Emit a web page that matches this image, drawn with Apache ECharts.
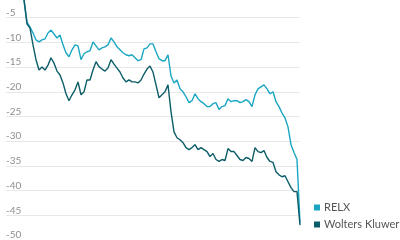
<!DOCTYPE html>
<html>
<head>
<meta charset="utf-8">
<script src="https://cdn.jsdelivr.net/npm/echarts@6/dist/echarts.min.js"></script>
<style>
html,body{margin:0;padding:0;background:#fff;overflow:hidden;width:400px;height:240px;}
#c{width:400px;height:247px;margin-top:-7px;}
</style>
</head>
<body>
<div id="c"></div>
<script>
// Data (percent change)
const seriesNames = ['RELX', 'Wolters Kluwer'];
const leadingGap = [null, null, null, null, null];
const relx = [0, -1.4, -5.9, -6.9, -8.1, -9.5, -9.9, -9.5, -9.3, -8.1,
  -7.5, -8.3, -9.1, -8.5, -10.5, -12.1, -12.9, -11.5, -10.5, -10.7,
  -13.5, -12.3, -11.9, -11.7, -9.9, -10.7, -11.5, -11.1, -10.9, -10.5,
  -9.1, -9.9, -10.9, -11.5, -12.1, -12.5, -12.7, -12.5, -13.1, -13.7,
  -13.5, -11.3, -11.1, -10.3, -10.3, -11.9, -13.3, -13.7, -13.7, -12.5,
  -16.8, -18.2, -17.6, -19.4, -20.0, -21.0, -22.2, -21.8, -20.4, -21.4,
  -22.0, -22.4, -23.0, -23.0, -22.4, -22.2, -23.6, -23.0, -22.8, -21.4,
  -22.0, -21.8, -21.8, -22.2, -22.0, -21.6, -22.0, -23.0, -20.6, -19.4,
  -19.0, -18.6, -19.4, -20.4, -20.0, -22.0, -23.0, -24.3, -25.3, -27.1,
  -30.7, -32.3, -33.7, -46.5];
const woltersKluwer = [0, -1.4, -6.3, -7.1, -10.5, -13.5, -15.6, -15.0, -15.6, -14.6,
  -13.1, -14.2, -15.8, -16.6, -18.2, -20.4, -21.8, -20.6, -19.6, -18.0,
  -20.6, -20.0, -17.6, -17.6, -15.6, -13.9, -14.9, -15.4, -15.8, -15.2,
  -13.5, -14.4, -15.2, -16.0, -17.2, -18.0, -17.6, -18.0, -18.0, -18.2,
  -17.6, -16.4, -15.4, -14.8, -16.0, -18.6, -21.2, -20.6, -20.0, -18.6,
  -24.0, -28.1, -29.3, -29.7, -30.3, -31.3, -31.7, -31.3, -30.7, -31.7,
  -31.3, -31.7, -32.1, -33.1, -32.5, -33.7, -34.1, -33.7, -33.9, -31.5,
  -32.1, -32.1, -32.9, -33.7, -33.9, -33.3, -33.5, -34.1, -31.3, -32.1,
  -32.3, -31.9, -33.3, -34.1, -34.3, -36.2, -36.8, -37.2, -37.0, -38.2,
  -39.4, -40.2, -40.2, -47.0];
const yTicks = { min: -50, max: 0, step: 5 };
const colors = ['#1aa6c2', '#0c5d68'];

const relxData = leadingGap.concat(relx);
const wkData = leadingGap.concat(woltersKluwer);
const categories = relxData.map((_, i) => String(i));

const chart = echarts.init(document.getElementById('c'), null, { renderer: 'canvas' });
chart.setOption({
  animation: false,
  backgroundColor: '#ffffff',
  grid: { left: 6, right: 100, top: 0, bottom: 0, containLabel: false },
  legend: {
    orient: 'vertical',
    left: 309,
    top: 204,
    itemWidth: 6,
    itemHeight: 6,
    itemGap: 6,
    icon: 'rect',
    textStyle: { fontFamily: 'Lato', fontSize: 11, color: '#555', padding: [0, 0, 0, -1] },
    data: seriesNames
  },
  xAxis: {
    type: 'category',
    data: categories,
    boundaryGap: false,
    show: false
  },
  yAxis: {
    type: 'value',
    min: yTicks.min,
    max: yTicks.max,
    interval: yTicks.step,
    axisLine: { show: false },
    axisTick: { show: false },
    splitLine: { lineStyle: { color: '#e8e8e8', width: 1 } },
    axisLabel: {
      inside: true,
      margin: 0,
      align: 'left',
      verticalAlign: 'bottom',
      color: '#8f8f8f',
      fontFamily: 'Lato',
      fontSize: 10,
      formatter: function (v) { return v === 0 ? '' : String(v); }
    }
  },
  series: [
    {
      name: seriesNames[0], type: 'line', data: relxData, symbol: 'none',
      color: colors[0], lineStyle: { width: 1.4, color: colors[0] }, connectNulls: false
    },
    {
      name: seriesNames[1], type: 'line', data: wkData, symbol: 'none',
      color: colors[1], lineStyle: { width: 1.4, color: colors[1] }, connectNulls: false
    }
  ]
});
</script>
</body>
</html>
